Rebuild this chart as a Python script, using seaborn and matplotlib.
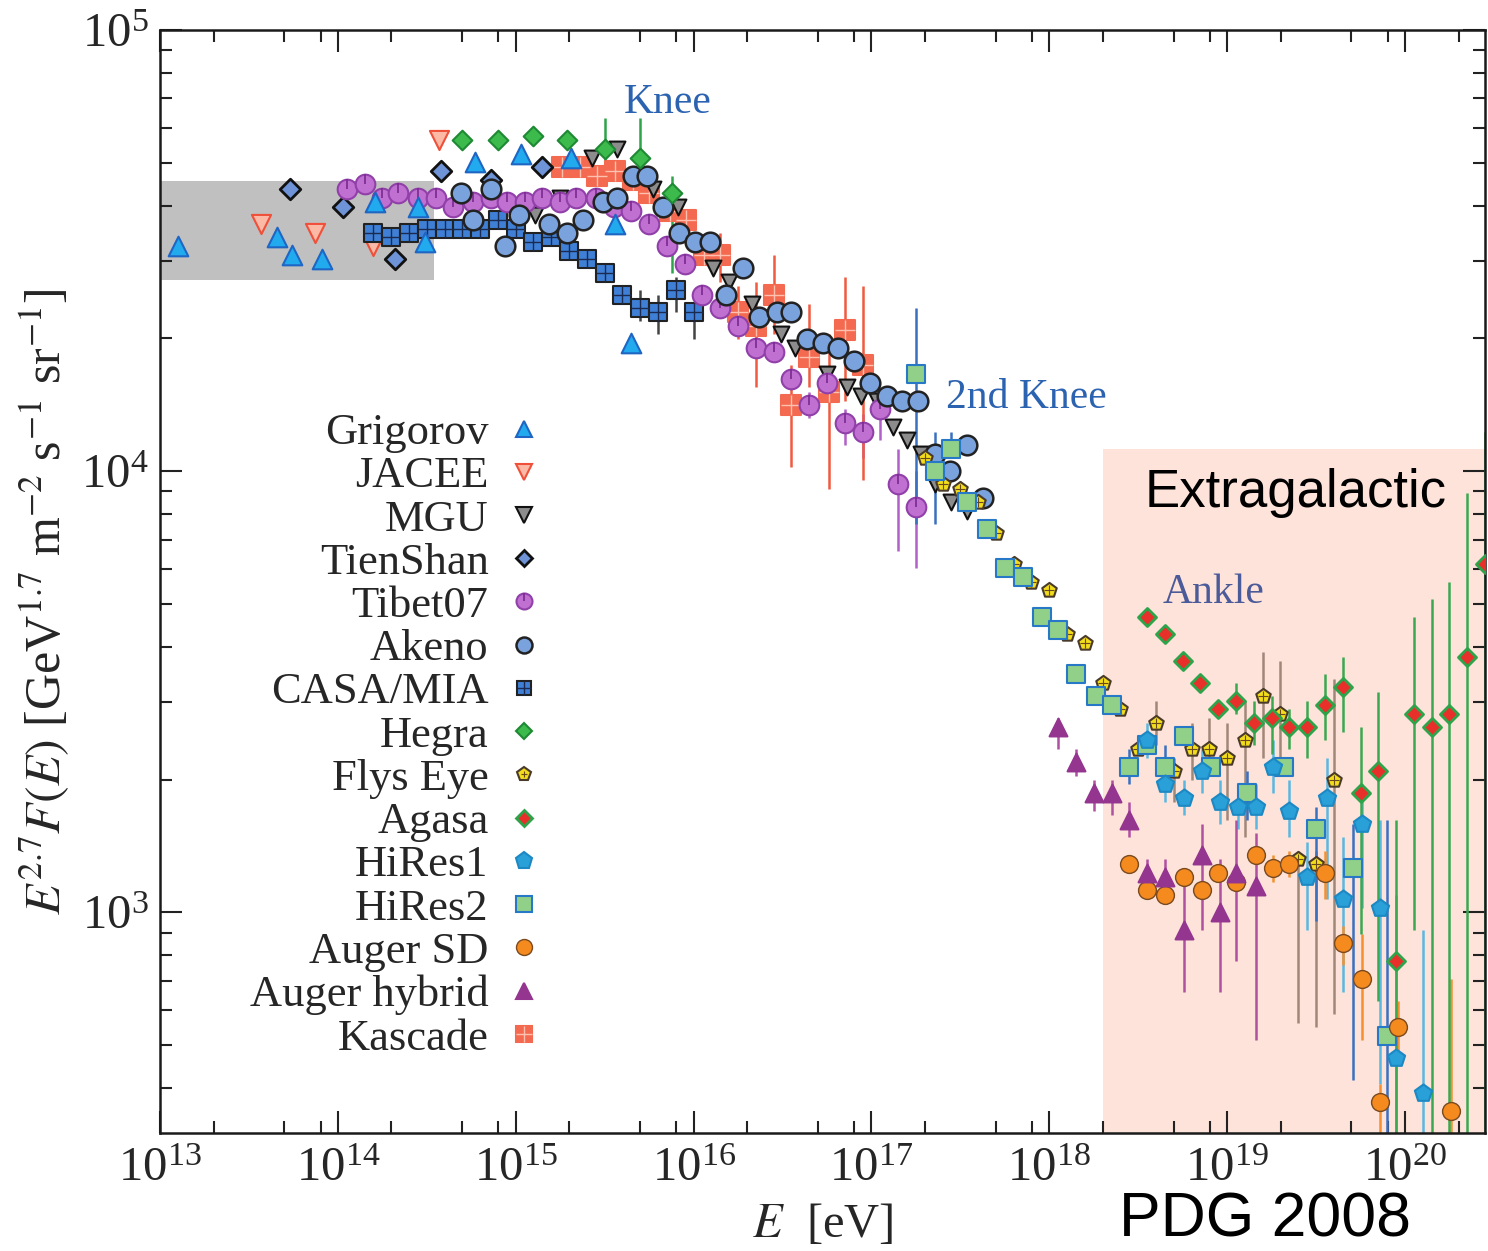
import numpy as np
import pandas as pd
import seaborn as sns
import matplotlib.pyplot as plt
from matplotlib.lines import Line2D
from matplotlib.path import Path
from matplotlib.ticker import FixedLocator, NullFormatter

# Values.
# lgE = log10(E / eV), lgF = log10(E^2.7 F(E) / GeV^1.7 m^-2 s^-1 sr^-1)

grigorov_lgE = [13.10, 13.66, 13.74, 13.91, 14.21, 14.45, 14.49, 14.77, 15.03, 15.31, 15.56, 15.65]
grigorov_lgF = [4.51, 4.53, 4.49, 4.48, 4.61, 4.60, 4.52, 4.70, 4.72, 4.71, 4.56, 4.29]

jacee_lgE = [13.57, 13.87, 14.20, 14.57]
jacee_lgF = [4.56, 4.54, 4.51, 4.75]

mgu_lgE = [15.11, 15.25, 15.43, 15.57, 15.77, 15.91, 16.11, 16.20, 16.33, 16.49, 16.57,
           16.75, 16.86, 16.94, 17.03, 17.12, 17.20, 17.28, 17.36, 17.45, 17.54]
mgu_lgF = [4.58, 4.62, 4.71, 4.73, 4.64, 4.60, 4.46, 4.43, 4.38, 4.31, 4.28,
           4.22, 4.19, 4.17, 4.16, 4.10, 4.07, 4.04, 3.97, 3.93, 3.91]

tienshan_lgE = [13.73, 14.03, 14.32, 14.58, 14.86, 15.15]
tienshan_lgF = [4.64, 4.60, 4.48, 4.68, 4.66, 4.69]

tibet_lgE = [14.05, 14.15, 14.25, 14.34, 14.45, 14.55, 14.65, 14.76, 14.86, 14.95, 15.05,
             15.15, 15.25, 15.34, 15.45, 15.55, 15.65, 15.75, 15.85, 15.95, 16.05, 16.15,
             16.25, 16.35, 16.45, 16.55, 16.65, 16.75, 16.85, 16.95, 17.05, 17.15, 17.25]
tibet_lgF = [4.64, 4.65, 4.62, 4.63, 4.62, 4.62, 4.60, 4.61, 4.62, 4.61, 4.61,
             4.62, 4.61, 4.62, 4.62, 4.60, 4.59, 4.56, 4.51, 4.47, 4.40, 4.37,
             4.33, 4.28, 4.27, 4.21, 4.15, 4.20, 4.11, 4.09, 4.14, 3.97, 3.92]
tibet_err_lgE = [16.65, 16.85, 16.95, 17.05, 17.15, 17.25]
tibet_err_lo = [4.12, 4.06, 4.03, 4.07, 3.82, 3.78]
tibet_err_hi = [4.18, 4.14, 4.13, 4.17, 4.05, 4.00]

akeno_lgE = [14.69, 14.76, 14.86, 14.94, 15.02, 15.19, 15.29, 15.38, 15.49, 15.57, 15.66,
             15.74, 15.83, 15.92, 16.01, 16.09, 16.18, 16.28, 16.37, 16.47, 16.55, 16.64,
             16.73, 16.81, 16.90, 16.99, 17.09, 17.17, 17.26, 17.36, 17.44, 17.54, 17.63]
akeno_lgF = [4.63, 4.57, 4.64, 4.51, 4.58, 4.56, 4.54, 4.57, 4.61, 4.62, 4.67,
             4.67, 4.60, 4.54, 4.52, 4.52, 4.40, 4.46, 4.35, 4.36, 4.36, 4.30,
             4.29, 4.28, 4.25, 4.20, 4.17, 4.16, 4.16, 4.04, 4.00, 4.06, 3.94]

casa_lgE = [14.2, 14.3, 14.4, 14.5, 14.6, 14.7, 14.8, 14.9, 15.0, 15.1,
            15.2, 15.3, 15.4, 15.5, 15.6, 15.7, 15.8, 15.9, 16.0]
casa_lgF = [4.54, 4.53, 4.54, 4.55, 4.55, 4.55, 4.55, 4.57, 4.55, 4.52,
            4.53, 4.50, 4.48, 4.45, 4.40, 4.37, 4.36, 4.41, 4.36]
casa_err_lgE = [15.7, 15.8, 15.9, 16.0]
casa_err_lo = [4.34, 4.31, 4.36, 4.30]
casa_err_hi = [4.41, 4.40, 4.44, 4.38]

hegra_lgE = [14.70, 14.90, 15.10, 15.29, 15.50, 15.70, 15.88]
hegra_lgF = [4.75, 4.75, 4.76, 4.75, 4.73, 4.71, 4.63]
hegra_err_lgE = [15.50, 15.70, 15.88]
hegra_err_lo = [4.70, 4.61, 4.45]
hegra_err_hi = [4.80, 4.80, 4.67]

kascade_lgE = [15.26, 15.36, 15.46, 15.56, 15.66, 15.75, 15.87, 15.96, 16.06,
               16.15, 16.25, 16.35, 16.45, 16.55, 16.65, 16.76, 16.85, 16.95]
kascade_lgF = [4.69, 4.69, 4.67, 4.68, 4.66, 4.63, 4.59, 4.57, 4.49,
               4.49, 4.36, 4.33, 4.40, 4.15, 4.26, 4.18, 4.32, 4.24]
kascade_err_lgE = [16.15, 16.25, 16.35, 16.45, 16.55, 16.65, 16.76, 16.85, 16.95]
kascade_err_lo = [4.43, 4.30, 4.19, 4.31, 4.01, 4.19, 3.96, 4.16, 3.98]
kascade_err_hi = [4.54, 4.42, 4.43, 4.49, 4.24, 4.38, 4.31, 4.44, 4.42]

flyseye_lgE = [17.3, 17.4, 17.5, 17.6, 17.7, 17.8, 17.9, 18.0, 18.1, 18.2, 18.3, 18.4,
               18.5, 18.6, 18.7, 18.8, 18.9, 19.0, 19.1, 19.2, 19.3, 19.4, 19.5, 19.6]
flyseye_lgF = [4.03, 3.97, 3.96, 3.93, 3.86, 3.79, 3.75, 3.73, 3.63, 3.61, 3.52, 3.46,
               3.37, 3.43, 3.32, 3.37, 3.37, 3.35, 3.39, 3.49, 3.45, 3.12, 3.11, 3.30]
flyseye_err_lgE = [18.6, 18.7, 18.8, 18.9, 19.0, 19.1, 19.2, 19.3, 19.4, 19.5, 19.6]
flyseye_err_lo = [3.38, 3.25, 3.30, 3.32, 3.21, 3.17, 3.35, 3.32, 2.75, 2.74, 2.77]
flyseye_err_hi = [3.48, 3.35, 3.43, 3.44, 3.43, 3.48, 3.59, 3.57, 3.14, 3.14, 3.53]

hires2_lgE = [17.25, 17.36, 17.45, 17.54, 17.65, 17.75, 17.85, 17.96, 18.05, 18.15, 18.26,
              18.35, 18.45, 18.55, 18.65, 18.76, 18.91, 19.11, 19.32, 19.50, 19.71, 19.90]
hires2_lgF = [4.22, 4.00, 4.05, 3.93, 3.87, 3.78, 3.76, 3.67, 3.64, 3.54, 3.49,
              3.47, 3.33, 3.38, 3.33, 3.40, 3.33, 3.27, 3.33, 3.19, 3.10, 2.72]
hires2_err_lgE = [17.25, 17.36, 17.45, 18.45, 18.65, 19.11, 19.50, 19.71, 19.90]
hires2_err_lo = [3.88, 3.88, 4.03, 3.29, 3.29, 3.21, 2.98, 2.62, 2.30]
hires2_err_hi = [4.37, 4.09, 4.09, 3.37, 3.38, 3.32, 3.24, 3.20, 3.21]

hires1_lgE = [18.55, 18.65, 18.76, 18.86, 18.96, 19.06, 19.16, 19.26,
              19.35, 19.45, 19.56, 19.65, 19.76, 19.86, 19.95, 20.10]
hires1_lgF = [3.39, 3.29, 3.26, 3.32, 3.25, 3.24, 3.24, 3.33,
              3.23, 3.08, 3.26, 3.03, 3.20, 3.01, 2.67, 2.59]
hires1_err_lo = [3.35, 3.25, 3.22, 3.27, 3.20, 3.19, 3.19, 3.27,
                 3.17, 2.96, 3.03, 2.82, 3.01, 2.61, 2.30, 2.30]
hires1_err_hi = [3.43, 3.33, 3.30, 3.37, 3.30, 3.29, 3.29, 3.39,
                 3.30, 3.16, 3.35, 3.17, 3.29, 3.21, 3.04, 2.96]

augersd_lgE = [18.45, 18.55, 18.65, 18.76, 18.86, 18.95, 19.05, 19.16,
               19.26, 19.35, 19.55, 19.65, 19.76, 19.86, 19.96, 20.26]
augersd_lgF = [3.11, 3.05, 3.04, 3.08, 3.05, 3.09, 3.07, 3.13,
               3.10, 3.11, 3.09, 2.93, 2.85, 2.57, 2.74, 2.55]
augersd_err_lgE = [19.26, 19.35, 19.55, 19.65, 19.76, 19.86, 19.96, 20.26]
augersd_err_lo = [3.07, 3.08, 3.03, 2.88, 2.71, 2.30, 2.67, 2.30]
augersd_err_hi = [3.13, 3.14, 3.14, 2.97, 2.95, 2.61, 2.80, 2.85]

augerhy_lgE = [18.05, 18.15, 18.25, 18.35, 18.45, 18.55, 18.65, 18.76, 18.86, 18.96, 19.05, 19.16]
augerhy_lgF = [3.42, 3.34, 3.27, 3.27, 3.21, 3.09, 3.08, 2.96, 3.13, 3.00, 3.09, 3.06]
augerhy_err_lo = [3.37, 3.31, 3.23, 3.22, 3.17, 3.06, 3.06, 2.82, 2.96, 2.82, 2.89, 2.71]
augerhy_err_hi = [3.44, 3.37, 3.30, 3.30, 3.25, 3.12, 3.12, 3.08, 3.20, 3.12, 3.21, 3.18]

agasa_lgE = [18.55, 18.65, 18.75, 18.85, 18.95, 19.05, 19.15, 19.25, 19.35, 19.45,
             19.55, 19.65, 19.75, 19.85, 19.95, 20.05, 20.15, 20.25, 20.35, 20.45]
agasa_lgF = [3.67, 3.63, 3.57, 3.52, 3.46, 3.48, 3.43, 3.44, 3.42, 3.42,
             3.47, 3.51, 3.27, 3.32, 2.89, 3.45, 3.42, 3.45, 3.58, 3.79]
agasa_err_lgE = [19.05, 19.15, 19.25, 19.35, 19.45, 19.55, 19.65, 19.75,
                 19.85, 19.95, 20.05, 20.15, 20.25, 20.35, 20.45]
agasa_err_lo = [3.45, 3.38, 3.36, 3.37, 3.35, 3.39, 3.41, 2.95,
                2.80, 2.30, 2.96, 2.30, 2.30, 2.30, 2.30]
agasa_err_hi = [3.52, 3.48, 3.49, 3.46, 3.48, 3.54, 3.58, 3.42,
                3.50, 3.21, 3.67, 3.71, 3.75, 3.95, 4.09]

# shaded bands
direct_band_lgE = [13.0, 14.54]
direct_band_lgF = [4.433, 4.657]
extragal_lgE = [18.3, 20.45]
extragal_top_lgF = 4.05

x_range = [13.0, 20.45]
y_range = [2.5, 5.0]
x_decades = [13, 14, 15, 16, 17, 18, 19, 20]
y_decades = [3, 4, 5]


def p10(v):
    return np.power(10.0, np.asarray(v, dtype=float))


sns.set_theme(style="ticks")
plt.rcParams["font.family"] = ["Liberation Serif", "DejaVu Serif"]
plt.rcParams["mathtext.fontset"] = "stix"

fig = plt.figure(figsize=(14.88, 12.51), dpi=100)
ax = fig.add_axes([0.1075, 0.0943, 0.8905, 0.8817])
ax.set_xscale("log")
ax.set_yscale("log")

ax.fill_between(p10(direct_band_lgE), 10 ** direct_band_lgF[0], 10 ** direct_band_lgF[1],
                color="#c0c0c0", lw=0, zorder=0)
ax.fill_between(p10(extragal_lgE), 10 ** y_range[0], 10 ** extragal_top_lgF,
                color="#fde3d9", lw=0, zorder=0)


def errs(lgE, lo, hi, color):
    ax.vlines(p10(lgE), p10(lo), p10(hi), colors=color, lw=1.8, zorder=2)


def pts(lgE, lgF, marker, s, fc, ec, z, lw=1.5):
    d = pd.DataFrame({"E": p10(lgE), "F": p10(lgF)})
    sns.scatterplot(data=d, x="E", y="F", marker=marker, s=s, color=fc, edgecolor=ec,
                    linewidth=lw, ax=ax, zorder=z, legend=False)


tick_up = Path([(0, 0), (0, 1)])

errs(tibet_err_lgE, tibet_err_lo, tibet_err_hi, "#b060c8")
errs(casa_err_lgE, casa_err_lo, casa_err_hi, "#444444")
errs(hegra_err_lgE, hegra_err_lo, hegra_err_hi, "#2ea44a")
errs(kascade_err_lgE, kascade_err_lo, kascade_err_hi, "#f05a40")
errs(flyseye_err_lgE, flyseye_err_lo, flyseye_err_hi, "#a08878")
errs(hires2_err_lgE, hires2_err_lo, hires2_err_hi, "#3a70c0")
errs(hires1_lgE, hires1_err_lo, hires1_err_hi, "#5ab8e0")
errs(augersd_err_lgE, augersd_err_lo, augersd_err_hi, "#f59030")
errs(augerhy_lgE, augerhy_err_lo, augerhy_err_hi, "#b050a0")
errs(agasa_err_lgE, agasa_err_lo, agasa_err_hi, "#3aa850")

pts(kascade_lgE, kascade_lgF, "s", 200, "#f36a50", "#f36a50", 3)
pts(kascade_lgE, kascade_lgF, "+", 200, "#ffc0b0", "#ffc0b0", 3.1, lw=1.0)
pts(mgu_lgE, mgu_lgF, "v", 130, "#8c8c8c", "#111111", 3.2)
pts(jacee_lgE, jacee_lgF, "v", 190, "#fbb9a6", "#f0503a", 3.3)
pts(tienshan_lgE, tienshan_lgF, "D", 110, "#6e93d6", "#111111", 3.4, lw=2.0)
pts(casa_lgE, casa_lgF, "s", 170, "#3f80d6", "#222222", 3.5)
pts(casa_lgE, casa_lgF, "+", 170, "#1a2a50", "#1a2a50", 3.51, lw=1.0)
pts(tibet_lgE, tibet_lgF, "o", 200, "#c070d0", "#9040a8", 3.6)
pts(tibet_lgE, tibet_lgF, tick_up, 200, "#7a2a90", "#7a2a90", 3.61, lw=1.2)
pts(grigorov_lgE, grigorov_lgF, "^", 200, "#22aaee", "#1f66c4", 3.7)
pts(akeno_lgE, akeno_lgF, "o", 200, "#7aa2dc", "#222222", 3.8, lw=1.8)
pts(hegra_lgE, hegra_lgF, "D", 100, "#3cba4c", "#1e8a34", 3.9)
pts(flyseye_lgE, flyseye_lgF, "p", 120, "#f2dc1c", "#4a3a2a", 4.0)
pts(flyseye_lgE, flyseye_lgF, "+", 45, "#6a4a1a", "#6a4a1a", 4.01, lw=0.8)
pts(hires2_lgE, hires2_lgF, "s", 170, "#90d088", "#2878c8", 4.1)
pts(hires1_lgE, hires1_lgF, "p", 170, "#2aa0d8", "#1c88c4", 4.2)
pts(augersd_lgE, augersd_lgF, "o", 165, "#f58a1f", "#7a4a20", 4.3, lw=1.0)
pts(augerhy_lgE, augerhy_lgF, "^", 165, "#94358f", "#94358f", 4.4)
pts(agasa_lgE, agasa_lgF, "D", 85, "#e8302a", "#2ea44a", 4.5, lw=2.0)

ax.set_xlim(10 ** x_range[0], 10 ** x_range[1])
ax.set_ylim(10 ** y_range[0], 10 ** y_range[1])

# majors at the decades, x minors at 2, 5, 8 and y minors at 2..9
xminor = [m * 10.0 ** d for d in x_decades for m in (2, 5, 8) if m * 10.0 ** d < 10 ** x_range[1]]
yminor = [m * 10.0 ** d for d in [2] + y_decades for m in range(2, 10)
          if 10 ** y_range[0] < m * 10.0 ** d < 10 ** y_range[1]]
ax.xaxis.set_major_locator(FixedLocator([10.0 ** d for d in x_decades]))
ax.yaxis.set_major_locator(FixedLocator([10.0 ** d for d in y_decades]))
ax.xaxis.set_minor_locator(FixedLocator(xminor))
ax.yaxis.set_minor_locator(FixedLocator(yminor))
ax.xaxis.set_minor_formatter(NullFormatter())
ax.yaxis.set_minor_formatter(NullFormatter())
ax.tick_params(which="both", direction="in", top=True, right=True, color="#222222", width=1.5)
ax.tick_params(which="major", length=16, labelsize=35)
ax.tick_params(which="minor", length=8.5)
ax.tick_params(axis="x", which="major", pad=10)
ax.tick_params(axis="y", which="major", pad=8)
for sp in ax.spines.values():
    sp.set_linewidth(1.8)
    sp.set_color("#1a1a1a")

ax.set_xlabel(r"$E$  [eV]", fontsize=35, labelpad=8)
ax.set_ylabel(r"$E^{2.7}F(E)$ [GeV$^{1.7}$ m$^{-2}$ s$^{-1}$ sr$^{-1}$]", fontsize=36)
ax.yaxis.set_label_coords(-0.066, 0.482)

ax.text(0.383, 0.934, "Knee", transform=ax.transAxes, ha="center", va="center",
        fontsize=30, color="#2c63b1")
ax.text(0.654, 0.667, "2nd Knee", transform=ax.transAxes, ha="center", va="center",
        fontsize=30, color="#2c63b1")
ax.text(0.795, 0.490, "Ankle", transform=ax.transAxes, ha="center", va="center",
        fontsize=30, color="#4b5a99")
ax.text(0.857, 0.580, "Extragalactic", transform=ax.transAxes, ha="center", va="center",
        fontsize=38, color="black", family="Liberation Sans")
fig.text(0.850, 0.0248, "PDG 2008", ha="center", va="center", fontsize=45,
         color="black", family="Liberation Sans")

# legend, marker on the right of the label
def h(marker, fc, ec, ms=11.5, mew=1.5):
    return Line2D([], [], ls="none", marker=marker, ms=ms, mfc=fc, mec=ec, mew=mew)


handles = [
    h("^", "#22aaee", "#1f66c4"),
    h("v", "#fbb9a6", "#f0503a"),
    h("v", "#8c8c8c", "#111111"),
    h("D", "#6e93d6", "#111111", ms=8, mew=2.0),
    (h("o", "#c070d0", "#9040a8"), h(tick_up, "#7a2a90", "#7a2a90", mew=1.2)),
    h("o", "#7aa2dc", "#222222", mew=1.8),
    (h("s", "#3f80d6", "#222222", ms=10.5), h("+", "#1a2a50", "#1a2a50", ms=10.5, mew=1.0)),
    h("D", "#3cba4c", "#1e8a34", ms=8),
    (h("p", "#f2dc1c", "#4a3a2a", ms=10.5), h("+", "#6a4a1a", "#6a4a1a", ms=5, mew=0.8)),
    h("D", "#e8302a", "#2ea44a", ms=8, mew=2.0),
    h("p", "#2aa0d8", "#1c88c4", ms=12.5),
    h("s", "#90d088", "#2878c8", ms=11),
    h("o", "#f58a1f", "#7a4a20", mew=1.0),
    h("^", "#94358f", "#94358f"),
    (h("s", "#f36a50", "#f36a50", ms=11.5), h("+", "#ffc0b0", "#ffc0b0", ms=11.5, mew=1.0)),
]
labels = ["Grigorov", "JACEE", "MGU", "TienShan", "Tibet07", "Akeno", "CASA/MIA", "Hegra",
          "Flys Eye", "Agasa", "HiRes1", "HiRes2", "Auger SD", "Auger hybrid", "Kascade"]
ax.legend(handles, labels, loc="upper right", bbox_to_anchor=(0.315, 0.681), frameon=False,
          markerfirst=False, fontsize=32, labelspacing=0.07, handlelength=1.0,
          handletextpad=0.3, borderpad=0.2)

fig.savefig("out.png", dpi=100)
